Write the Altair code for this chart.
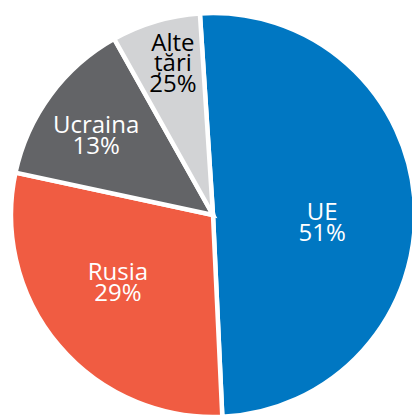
import altair as alt
import pandas as pd

categories = ["UE", "Rusia", "Ucraina", "Alte țări"]
values = [50.3, 29.1, 13.5, 7.1]
value_labels = ["51%", "29%", "13%", "25%"]
colors = ["#0077C2", "#F05C42", "#636467", "#D2D3D5"]
text_colors = ["white", "white", "white", "black"]

df = pd.DataFrame({
    "cat": categories,
    "val": values,
    "lab": [c.replace(" ", "\n") + "\n" + p for c, p in zip(categories, value_labels)],
    "idx": list(range(len(categories))),
    "tc": text_colors,
})

start = -0.065
tscale = alt.Scale(domain=[0, 100], range=[start, start + 6.2832])
cx, cy = 213, 215

arcs = alt.Chart(df).mark_arc(radius=202, stroke="white", strokeWidth=4.5).encode(
    theta=alt.Theta("val:Q", stack=True, scale=tscale),
    order=alt.Order("idx:Q"),
    x=alt.value(cx),
    y=alt.value(cy),
    color=alt.Color("cat:N", scale=alt.Scale(domain=categories, range=colors), legend=None),
)

lbase = alt.Chart(df).transform_window(
    cum="sum(val)", sort=[alt.SortField("idx")]
).transform_calculate(
    mid="datum.cum - datum.val / 2 + (datum.idx == 0 ? 2.1 : datum.idx == 1 ? 1.3 : datum.idx == 2 ? -0.67 : 0.45)",
    lr="datum.idx == 0 ? 109.5 : datum.idx == 1 ? 117 : datum.idx == 2 ? 141 : 156",
).encode(
    theta=alt.Theta("mid:Q", stack=None, scale=tscale),
    radius=alt.Radius("lr:Q", scale=None),
    x=alt.value(cx),
    y=alt.value(cy),
    text="lab:N",
    color=alt.Color("tc:N", scale=None),
)

labels_main = lbase.transform_filter("datum.idx < 3").mark_text(
    font="Open Sans", fontSize=24, lineBreak="\n", lineHeight=21, align="center",
    baseline="middle", dy=-10.5
)
labels_alte = lbase.transform_filter("datum.idx == 3").mark_text(
    font="Open Sans", fontSize=24, fontWeight=500, lineBreak="\n", lineHeight=20.5,
    align="center", baseline="middle", dy=-20.5
)

chart = alt.layer(arcs, labels_main, labels_alte).properties(
    width=412, height=417, autosize=alt.AutoSizeParams(type="none"), padding=0
).configure_view(stroke=None)

chart.save("out.html", embed_options={"renderer": "svg", "actions": False})
